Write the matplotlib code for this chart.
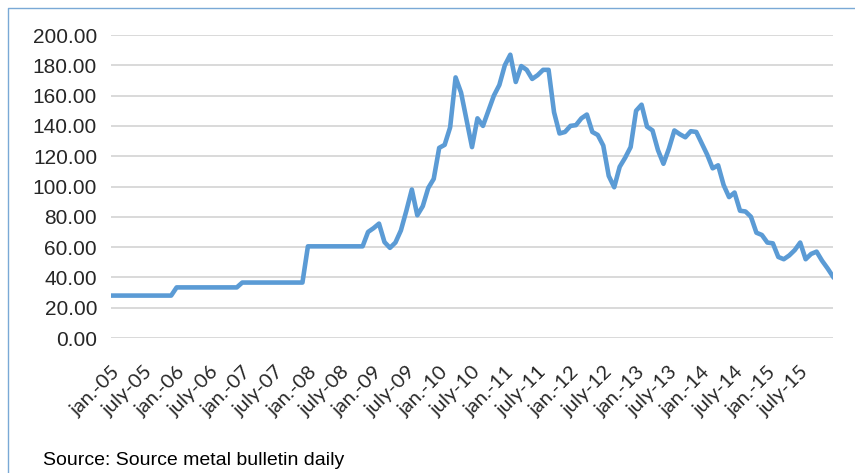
import matplotlib
matplotlib.use('agg')
import matplotlib.pyplot as plt
from matplotlib.lines import Line2D
import numpy as np

# monthly price, jan 2005 .. jan 2016
price_2005 = [28.0] * 12
price_2006 = [33.4] * 12
price_2007 = [36.6] * 12
price_2008 = [60.5] * 11 + [70.0]
price_2009 = [72.5, 75.5, 63.3, 59.5, 63.0, 71.0, 84.0, 98.0, 81.0, 87.0, 99.0, 105.0]
price_2010 = [125.5, 127.5, 139.0, 172.0, 162.0, 144.0, 126.0, 145.0, 140.0, 150.0, 160.0, 167.0]
price_2011 = [180.0, 187.0, 169.0, 179.5, 177.0, 171.0, 173.5, 177.0, 177.0, 149.0, 135.0, 136.0]
price_2012 = [140.0, 140.5, 145.0, 147.5, 136.0, 134.0, 127.0, 107.0, 99.5, 113.0, 119.0, 126.0]
price_2013 = [150.0, 154.0, 139.5, 137.0, 124.0, 115.0, 125.0, 137.0, 134.5, 132.5, 136.5, 136.0]
price_2014 = [128.5, 121.0, 112.0, 114.0, 101.0, 93.0, 96.0, 84.0, 83.5, 80.0, 69.5, 68.0]
price_2015 = [63.0, 62.5, 53.5, 52.0, 54.5, 58.0, 63.0, 52.0, 55.5, 57.0, 51.0, 46.0]
price_2016 = [40.5]

price = (price_2005 + price_2006 + price_2007 + price_2008 + price_2009 + price_2010
         + price_2011 + price_2012 + price_2013 + price_2014 + price_2015 + price_2016)

years = ['05', '06', '07', '08', '09', '10', '11', '12', '13', '14', '15']
tick_labels = []
for yy in years:
    tick_labels += ['jan.-' + yy, 'july-' + yy]

y_ticks = np.arange(0, 201, 20)

fig = plt.figure(figsize=(8.55, 4.73), dpi=100)
ax = fig.add_axes([111/855, 1-338/473, (833-111)/855, (338-35)/473])

x = np.arange(len(price))
ax.plot(x, price, color='#5B9BD5', linewidth=3.3, solid_joinstyle='round', zorder=3)

ax.set_xlim(0, len(price) - 1)
ax.set_ylim(0, 200)
ax.set_yticks(y_ticks)
ax.set_yticklabels(['%.2f' % v for v in y_ticks], fontfamily='Liberation Sans',
                   fontsize=15, color='#262626')
ax.set_xticks(np.arange(0, 6 * len(tick_labels), 6))
ax.set_xticklabels(tick_labels, rotation=45, ha='right', rotation_mode='anchor',
                   fontfamily='Lato', fontsize=14.5, color='#262626')
ax.tick_params(axis='y', length=0, pad=10)
ax.tick_params(axis='x', length=0, pad=18)
ax.grid(axis='y', color='#d9d9d9', linewidth=1.4, zorder=0)
for s in ax.spines.values():
    s.set_visible(False)

# outer frame, only top and left edges fall inside the image
fig.add_artist(Line2D([8/855, 8/855, 1.0], [0.0, 1-8/473, 1-8/473],
                      transform=fig.transFigure, color='#7aa9d6', linewidth=1.0))

fig.text(43/855, 1-460/473, 'Source: Source metal bulletin daily', fontfamily='Liberation Sans',
         fontsize=14, color='#000000', va='center', ha='left')

fig.savefig('out.png', dpi=100)
plt.close('all')
